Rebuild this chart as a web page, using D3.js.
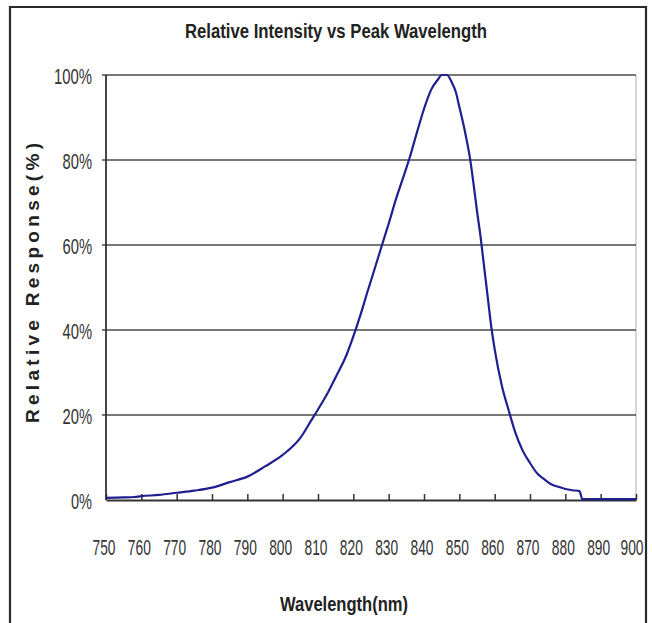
<!DOCTYPE html>
<html>
<head>
<meta charset="utf-8">
<script src="https://cdn.jsdelivr.net/npm/d3@7"></script>
<style>
  body { margin: 0; background: #fff; }
  svg { display: block; }
</style>
</head>
<body>
<div id="chart"></div>
<script>
// values
const wavelengths = [750, 755, 758, 760, 765, 770, 775, 780, 785, 790, 795, 800, 805, 808, 810, 813, 815, 818,
  820, 822, 824, 826, 828, 830, 832, 834, 836, 838, 840, 842, 844, 845, 846.5, 848, 849, 850, 851, 852,
  853, 854, 855, 856, 857, 858, 859, 860, 862, 864, 866, 868, 870, 872, 874, 876, 878, 880, 882, 884,
  884.8, 890, 900];
const responses = [0.5, 0.6, 0.7, 0.9, 1.2, 1.7, 2.2, 2.9, 4.2, 5.5, 7.9, 10.6, 14.6, 18.6, 21.3, 25.6, 28.9, 34,
  38.5, 43.5, 49, 54.3, 59.7, 65, 70.6, 75.6, 80.7, 86.5, 92, 96.5, 99, 100, 100, 98, 96, 92.5, 89, 85,
  80.5, 74.5, 68, 62, 55, 48, 41, 35.5, 27, 21, 15.5, 11.5, 8.7, 6.3, 4.9, 3.7, 3.1, 2.6, 2.3, 2.1,
  0.2, 0.2, 0.2];
const xTicks = [750, 760, 770, 780, 790, 800, 810, 820, 830, 840, 850, 860, 870, 880, 890, 900];
const yTicks = [0, 20, 40, 60, 80, 100];
const chartTitle = "Relative Intensity vs Peak Wavelength";
const xTitle = "Wavelength(nm)";
const yTitle = "Relative Response(%)";

const W = 652, H = 623;
const margin = { top: 75, right: 16, bottom: 123, left: 106 };
const narrow = "'Liberation Sans Narrow', 'Arial Narrow', 'Liberation Sans', Arial, sans-serif";
const wide = "'Liberation Sans', Arial, sans-serif";

const svg = d3.select("#chart").append("svg")
  .attr("width", W)
  .attr("height", H);

const x = d3.scaleLinear().domain([750, 900]).range([margin.left, W - margin.right]);
const y = d3.scaleLinear().domain([0, 100]).range([H - margin.bottom, margin.top]);

// right edge of plot (light)
svg.append("line")
  .attr("x1", x(900)).attr("x2", x(900))
  .attr("y1", y(100)).attr("y2", y(0))
  .attr("stroke", "#c8c8c8").attr("stroke-width", 1.5);

// gridlines + little outer ticks on the y axis
svg.append("g")
  .selectAll("line")
  .data(yTicks.filter(d => d > 0))
  .join("line")
  .attr("x1", x(750) - 4).attr("x2", x(900))
  .attr("y1", d => y(d)).attr("y2", d => y(d))
  .attr("stroke", "#4a4a4a").attr("stroke-width", 1.5);

// y axis line
svg.append("line")
  .attr("x1", x(750)).attr("x2", x(750))
  .attr("y1", y(100)).attr("y2", y(0))
  .attr("stroke", "#333").attr("stroke-width", 1.8);

// x axis: line with ticks pointing up into the plot
const xAxis = svg.append("g")
  .attr("transform", "translate(0," + y(0) + ")")
  .call(d3.axisTop(x).tickValues(xTicks).tickSize(6).tickSizeOuter(0).tickFormat(""));
xAxis.select(".domain").attr("stroke", "#333").attr("stroke-width", 2);
xAxis.selectAll(".tick line").attr("stroke", "#333").attr("stroke-width", 1.5);

// curve
svg.append("path")
  .datum(wavelengths.map((w, i) => [w, responses[i]]))
  .attr("fill", "none")
  .attr("stroke", "#1f1f8f")
  .attr("stroke-width", 2.2)
  .attr("stroke-linejoin", "round")
  .attr("d", d3.line().x(d => x(d[0])).y(d => y(d[1])).curve(d3.curveMonotoneX));

// y tick labels
svg.append("g")
  .selectAll("text")
  .data(yTicks)
  .join("text")
  .attr("x", 92)
  .attr("y", d => y(d) + 1)
  .attr("text-anchor", "end")
  .attr("dominant-baseline", "central")
  .attr("font-family", narrow)
  .attr("font-size", 22)
  .attr("fill", "#333")
  .attr("textLength", d => (String(d).length * 8.5 + 12.5))
  .attr("lengthAdjust", "spacingAndGlyphs")
  .text(d => d + "%");

// x tick labels (last one nudged so the frame doesn't cover it)
svg.append("g")
  .selectAll("text")
  .data(xTicks)
  .join("text")
  .attr("x", d => x(d) - (d === 900 ? 4 : 2))
  .attr("y", 547)
  .attr("text-anchor", "middle")
  .attr("dominant-baseline", "central")
  .attr("font-family", narrow)
  .attr("font-size", 22)
  .attr("fill", "#333")
  .attr("textLength", 23)
  .attr("lengthAdjust", "spacingAndGlyphs")
  .text(d => d);

// titles
svg.append("text")
  .attr("x", 336).attr("y", 38)
  .attr("text-anchor", "middle")
  .attr("font-family", narrow)
  .attr("font-weight", "bold")
  .attr("font-size", 20)
  .attr("fill", "#222")
  .attr("textLength", 302)
  .attr("lengthAdjust", "spacingAndGlyphs")
  .text(chartTitle);

svg.append("text")
  .attr("x", 344).attr("y", 611)
  .attr("text-anchor", "middle")
  .attr("font-family", narrow)
  .attr("font-weight", "bold")
  .attr("font-size", 20)
  .attr("fill", "#222")
  .attr("textLength", 128)
  .attr("lengthAdjust", "spacingAndGlyphs")
  .text(xTitle);

svg.append("text")
  .attr("transform", "translate(39,283) rotate(-90)")
  .attr("text-anchor", "middle")
  .attr("font-family", wide)
  .attr("font-weight", "bold")
  .attr("font-size", 19)
  .attr("fill", "#222")
  .attr("textLength", 280)
  .attr("lengthAdjust", "spacing")
  .text(yTitle);

// outer frame (open at the bottom, it runs off the picture)
svg.append("path")
  .attr("d", "M10," + H + " V7 H646 V" + H)
  .attr("fill", "none")
  .attr("stroke", "#2a2a2a")
  .attr("stroke-width", 2.2);
</script>
</body>
</html>
